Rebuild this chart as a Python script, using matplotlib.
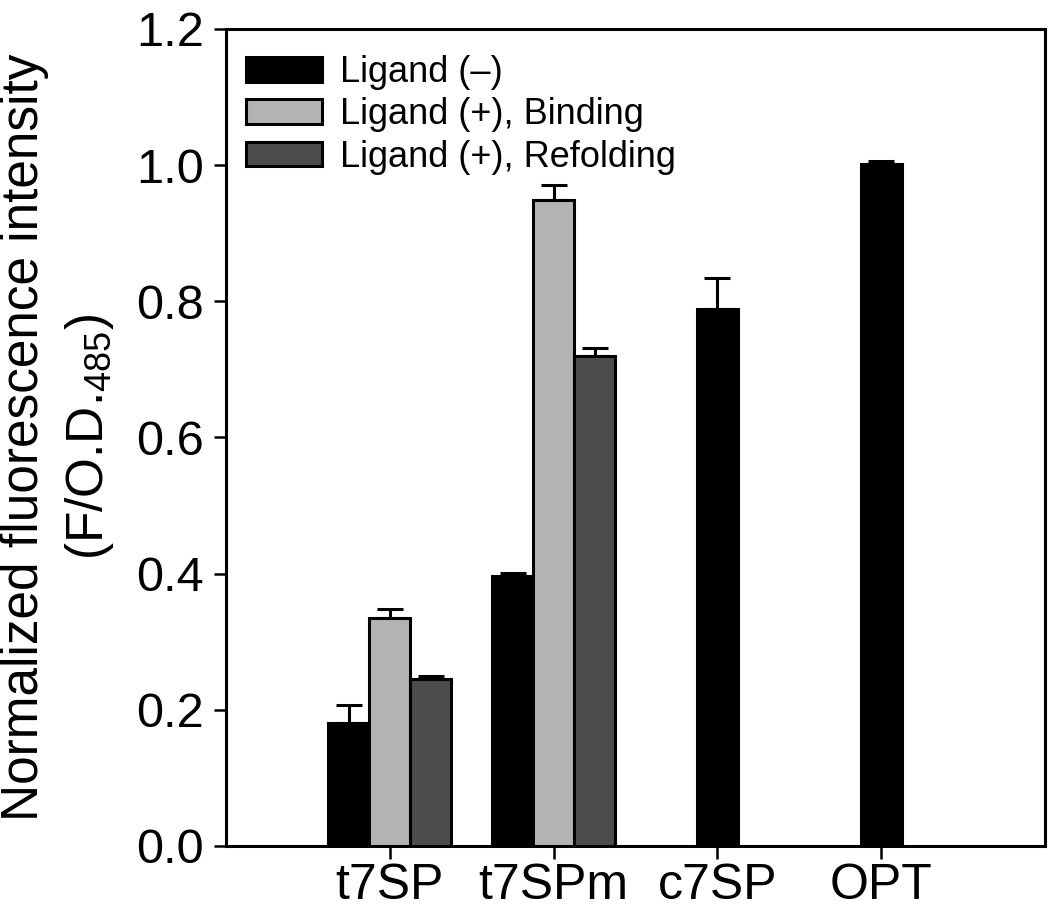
"""
Normalized fluorescence bar chart (Prism-style) for t7SP variants.
"""
import matplotlib
matplotlib.use('Agg')
import matplotlib.pyplot as plt
import numpy as np

plt.rcParams['font.family'] = ['Liberation Sans', 'DejaVu Sans']
plt.rcParams['mathtext.fontset'] = 'custom'
plt.rcParams['mathtext.rm'] = 'Liberation Sans'

# data
groups = ['t7SP', 't7SPm', 'c7SP', 'OPT']
ligand_minus = [0.181, 0.396, 0.789, 1.001]
ligand_minus_err = [0.026, 0.005, 0.045, 0.005]
binding_groups = ['t7SP', 't7SPm']
binding = [0.335, 0.949]
binding_err = [0.013, 0.022]
refolding = [0.245, 0.720]
refolding_err = [0.005, 0.011]

COLORS = {'minus': '#000000', 'binding': '#b3b3b3', 'refolding': '#4d4d4d'}
LW = 2.2
WIDTH = 0.25

fig = plt.figure(figsize=(10.5, 9.13), dpi=100)
ax = fig.add_axes([0.2152, 0.0734, 0.78, 0.8949])

x = np.arange(len(groups))
# groups that have all three series get the black bar shifted left
x_minus = np.array([xi - WIDTH if g in binding_groups else xi for xi, g in zip(x, groups)])
x_bind = np.array([groups.index(g) for g in binding_groups], dtype=float)
x_refold = x_bind + WIDTH


def draw_series(xpos, vals, errs, color, label):
    ax.bar(xpos, vals, WIDTH, color=color, edgecolor='black', linewidth=LW,
           label=label, zorder=3)
    ax.errorbar(xpos, vals, yerr=[np.zeros(len(errs)), errs], fmt='none',
                ecolor='black', elinewidth=LW, capsize=9.5, capthick=LW, zorder=2)


draw_series(x_minus, ligand_minus, ligand_minus_err, COLORS['minus'], 'Ligand (–)')
draw_series(x_bind, binding, binding_err, COLORS['binding'], 'Ligand (+), Binding')
draw_series(x_refold, refolding, refolding_err, COLORS['refolding'], 'Ligand (+), Refolding')

ax.set_xlim(-1, 4)
ax.set_ylim(0, 1.2)
ax.set_yticks(np.arange(0, 1.21, 0.2))
ax.set_yticklabels([f'{v:.1f}' for v in np.arange(0, 1.21, 0.2)])
ax.set_xticks(x)
ax.set_xticklabels(groups)

for s in ax.spines.values():
    s.set_linewidth(LW)
ax.tick_params(axis='y', direction='out', length=9, width=1.8, pad=7, labelsize=35)
ax.tick_params(axis='x', direction='out', length=9, width=1.8, pad=3, labelsize=36)

fig.text(25 / 1050, 1 - 437 / 913, 'Normalized fluorescence intensity', rotation=90,
         ha='center', va='center', fontsize=37)
fig.text(90 / 1050, 1 - 437 / 913, r'(F/O.D.$_{\mathrm{485}}$)', rotation=90,
         ha='center', va='center', fontsize=37)

leg = ax.legend(loc='upper left', bbox_to_anchor=(0.0244, 0.968), frameon=False,
                fontsize=26, handlelength=2.1, handleheight=0.66,
                handletextpad=0.5, labelspacing=0.2, borderpad=0, borderaxespad=0)

fig.savefig('out.png', dpi=100)
